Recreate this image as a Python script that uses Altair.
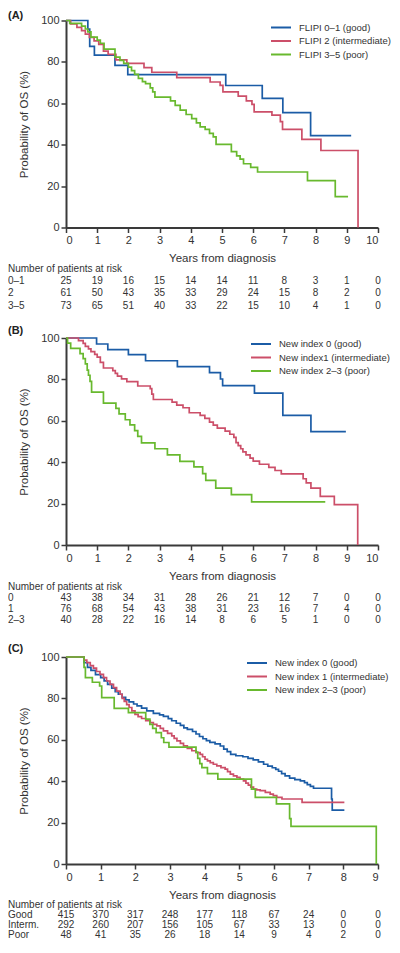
import altair as alt
import pandas as pd

FONT = "Liberation Sans"
TXT = "#333333"
COLORS = ["#1b5ca6", "#cc4f69", "#68b92e"]

# ---------------- Panel A ----------------
A_labels = ["FLIPI 0–1 (good)", "FLIPI 2 (intermediate)", "FLIPI 3–5 (poor)"]
A_good_t = [0, 0.70, 0.76, 0.91, 1.57, 1.98, 5.12, 6.29, 6.95, 7.84, 9.14]
A_good_s = [100, 95.8, 87.5, 83.3, 78.3, 73.9, 68.6, 62.4, 55.5, 44.4, 44.4]
A_int_t = [0, 0.15, 0.35, 0.50, 0.62, 0.75, 0.90, 1.05, 1.20, 1.35, 1.60, 1.95, 2.50, 2.75, 3.55,
           4.62, 4.94, 5.03, 5.52, 5.78, 5.96, 6.03, 6.60, 6.87, 6.94, 7.56, 8.17, 9.36]
A_int_s = [100, 98.4, 96.7, 95.1, 93.4, 91.8, 90.2, 88.5, 85.2, 83.6, 81.0, 79.3, 77.2, 75.0, 72.4,
           70.3, 68.7, 65.5, 63.5, 61.2, 59.5, 55.9, 54.3, 51.1, 47.4, 42.6, 37.2, 0]
A_poor_t = [0, 0.12, 0.50, 0.62, 0.70, 0.80, 1.00, 1.10, 1.22, 1.57, 1.73, 1.85, 2.00, 2.10, 2.20,
            2.32, 2.45, 2.55, 2.70, 2.78, 2.85, 3.35, 3.50, 3.66, 3.85, 4.03, 4.18, 4.30, 4.46, 4.60,
            4.72, 4.81, 5.30, 5.47, 5.58, 5.69, 5.92, 6.14, 7.74, 8.63, 9.04]
A_poor_s = [100, 98.6, 97.3, 95.9, 94.5, 92.0, 90.5, 89.0, 86.2, 82.3, 80.7, 79.3, 77.5, 75.8, 74.0,
            72.0, 70.5, 69.5, 67.5, 65.5, 63.0, 61.2, 59.0, 56.7, 54.6, 52.6, 50.5, 48.6, 47.4, 45.5,
            43.8, 40.2, 36.7, 34.6, 33.0, 30.8, 29.0, 26.8, 22.6, 14.9, 14.9]
A_risk_rows = ["0–1", "2", "3–5"]
A_risk_0_1 = [25, 19, 16, 15, 14, 14, 11, 8, 3, 1, 0]
A_risk_2 = [61, 50, 43, 35, 33, 29, 24, 15, 8, 2, 0]
A_risk_3_5 = [73, 65, 51, 40, 33, 22, 15, 10, 4, 1, 0]

# ---------------- Panel B ----------------
B_labels = ["New index 0 (good)", "New index1 (intermediate)", "New index 2–3 (poor)"]
B_good_t = [0, 0.98, 1.34, 2.00, 2.55, 3.57, 4.60, 4.95, 5.02, 6.04, 6.95, 7.85, 8.97]
B_good_s = [100, 97.1, 94.4, 92.0, 89.0, 86.2, 83.3, 80.2, 77.0, 73.4, 62.6, 54.8, 54.8]
B_int_t = [0, 0.40, 0.55, 0.62, 0.72, 0.80, 0.92, 1.00, 1.10, 1.20, 1.50, 1.58, 1.65, 1.78, 1.95,
           2.30, 2.70, 2.75, 2.80, 3.40, 3.55, 3.75, 3.95, 4.30, 4.45, 4.60, 4.72, 4.85, 5.10, 5.25,
           5.38, 5.45, 5.52, 5.60, 5.67, 5.77, 5.90, 6.00, 6.20, 6.50, 6.70, 6.90, 7.60, 7.70, 7.85,
           8.15, 8.60, 9.35]
B_int_s = [100, 98.7, 97.4, 96.0, 94.7, 93.4, 92.1, 90.8, 88.2, 85.5, 84.2, 82.9, 81.6, 80.3, 78.9,
           76.8, 75.5, 72.9, 70.3, 69.0, 67.6, 66.3, 63.9, 62.6, 61.2, 59.4, 57.9, 56.5, 55.0, 53.5,
           52.0, 49.5, 48.0, 46.5, 45.0, 43.5, 42.0, 40.5, 39.0, 37.5, 36.0, 34.4, 32.0, 30.0, 27.5,
           23.5, 19.5, 0]
B_poor_t = [0, 0.05, 0.15, 0.45, 0.55, 0.62, 0.68, 0.72, 0.77, 0.82, 1.20, 1.60, 1.70, 1.90, 2.05,
            2.20, 2.30, 2.42, 2.85, 3.25, 3.65, 4.10, 4.38, 4.48, 4.80, 5.30, 5.95, 8.31]
B_poor_s = [100, 97.5, 95.0, 92.5, 90.0, 87.5, 84.5, 82.0, 79.0, 73.9, 68.5, 66.0, 63.3, 60.5, 58.0,
            55.3, 52.5, 49.3, 46.5, 43.5, 40.4, 37.7, 34.5, 31.2, 27.5, 24.3, 20.8, 20.8]
B_risk_rows = ["0", "1", "2–3"]
B_risk_0 = [43, 38, 34, 31, 28, 26, 21, 12, 7, 0, 0]
B_risk_1 = [76, 68, 54, 43, 38, 31, 23, 16, 7, 4, 0]
B_risk_2_3 = [40, 28, 22, 16, 14, 8, 6, 5, 1, 0, 0]

# ---------------- Panel C ----------------
C_labels = ["New index 0 (good)", "New index 1 (intermediate)", "New index 2–3 (poor)"]
C_good_t = [0, 0.52, 0.62, 0.72, 0.85, 1.00, 1.10, 1.20, 1.32, 1.42, 1.51, 1.62, 1.72, 1.82, 1.95,
            2.05, 2.18, 2.33, 2.52, 2.70, 2.81, 2.95, 3.05, 3.18, 3.30, 3.40, 3.50, 3.65, 3.75, 3.85,
            3.95, 4.05, 4.15, 4.30, 4.45, 4.55, 4.65, 4.75, 4.90, 5.10, 5.25, 5.40, 5.55, 5.70, 5.82,
            5.95, 6.05, 6.13, 6.22, 6.32, 6.45, 6.60, 6.76, 6.88, 6.96, 7.05, 7.14, 7.66, 7.68, 8.03]
C_good_s = [100, 97.3, 95.0, 93.5, 91.5, 90.0, 88.5, 86.8, 85.0, 83.3, 82.0, 80.5, 79.3, 78.3, 77.3,
            76.4, 75.3, 74.0, 72.8, 72.0, 71.3, 70.2, 69.2, 68.0, 67.0, 65.8, 65.0, 64.0, 62.8, 61.6,
            60.5, 59.6, 58.8, 58.0, 57.0, 55.5, 54.3, 53.0, 52.3, 51.8, 51.0, 50.3, 49.3, 48.2, 47.3,
            46.5, 45.7, 44.8, 43.7, 42.6, 41.5, 40.8, 40.2, 39.3, 38.3, 37.5, 36.6, 31.4, 26.0, 26.0]
C_int_t = [0, 0.52, 0.60, 0.70, 0.79, 0.88, 0.98, 1.08, 1.17, 1.27, 1.37, 1.46, 1.56, 1.62, 1.68,
           1.75, 1.82, 1.90, 1.99, 2.08, 2.18, 2.30, 2.43, 2.52, 2.62, 2.72, 2.81, 2.93, 3.05, 3.12,
           3.20, 3.30, 3.39, 3.50, 3.63, 3.75, 3.87, 3.94, 4.01, 4.08, 4.16, 4.25, 4.35, 4.47, 4.59,
           4.66, 4.74, 4.83, 4.93, 5.02, 5.12, 5.19, 5.26, 5.33, 5.41, 5.50, 5.60, 5.75, 5.89, 5.98,
           6.08, 6.23, 6.81, 8.03]
C_int_s = [100, 98.5, 97.3, 95.8, 94.6, 93.0, 91.6, 90.0, 88.4, 86.8, 85.2, 83.5, 82.0, 80.0, 78.6,
           77.0, 75.6, 74.0, 72.3, 71.2, 70.3, 69.3, 68.3, 67.5, 66.7, 65.5, 64.3, 63.1, 61.9, 60.7,
           59.5, 58.3, 57.1, 55.9, 54.7, 53.8, 53.0, 51.8, 50.6, 49.8, 49.0, 48.2, 47.4, 46.6, 45.8,
           44.6, 43.4, 42.6, 41.8, 41.0, 40.2, 39.1, 38.1, 37.1, 36.2, 35.8, 35.4, 34.6, 33.8, 33.0,
           32.2, 31.4, 29.8, 29.8]
C_poor_t = [0, 0.52, 0.56, 0.76, 0.97, 1.03, 1.39, 1.80, 2.30, 2.42, 2.50, 2.60, 2.75, 2.82, 2.97,
            3.75, 3.80, 3.86, 3.92, 4.08, 4.38, 5.35, 5.46, 6.07, 6.45, 6.49, 8.95]
C_poor_s = [100, 95.0, 90.0, 87.8, 86.0, 80.4, 75.2, 73.1, 70.0, 67.5, 65.5, 63.5, 61.0, 58.7, 56.5,
            54.0, 51.0, 48.5, 46.6, 43.7, 41.0, 36.2, 32.2, 29.0, 21.9, 18.2, 0]
C_risk_rows = ["Good", "Interm.", "Poor"]
C_risk_good = [415, 370, 317, 248, 177, 118, 67, 24, 0, 0]
C_risk_interm = [292, 260, 207, 156, 105, 67, 33, 13, 0, 0]
C_risk_poor = [48, 41, 35, 26, 18, 14, 9, 4, 2, 0]

HEADER = "Number of patients at risk"
PLOT_W, PLOT_H = 312, 207


def curves_df(labels, series):
    rows = []
    for lab, (ts, ss) in zip(labels, series):
        for i, (t, s) in enumerate(zip(ts, ss)):
            rows.append({"series": lab, "t": t, "s": s, "i": i})
    return pd.DataFrame(rows)


def risk_df(row_labels, counts):
    rows = []
    for lab, vals in zip(row_labels, counts):
        for yr, n in enumerate(vals):
            rows.append({"row": lab, "t": yr, "n": n})
    return pd.DataFrame(rows)


def panel(letter, labels, series, xmax, risk_rows, risk_counts, legend_x, legend_y,
          tag_y, table_top, table_bottom):
    df = curves_df(labels, series)
    xscale = alt.Scale(domain=[0, xmax], nice=False, zero=True)
    xaxis = alt.Axis(title="Years from diagnosis", values=list(range(0, xmax + 1)),
                     format="d", titlePadding=7, labelOverlap=False)
    lines = alt.Chart(df).mark_line(interpolate="step-after", strokeWidth=1.7).encode(
        x=alt.X("t:Q", scale=xscale, axis=xaxis),
        y=alt.Y("s:Q", scale=alt.Scale(domain=[0, 100], nice=False),
                axis=alt.Axis(title="Probability of OS (%)", values=[0, 20, 40, 60, 80, 100],
                              titlePadding=11)),
        color=alt.Color("series:N", scale=alt.Scale(domain=labels, range=COLORS),
                        sort=labels,
                        legend=alt.Legend(title=None, orient="none", legendX=legend_x,
                                          legendY=legend_y, symbolType="M-2,0H2",
                                          symbolSize=100, symbolStrokeWidth=2,
                                          labelFontSize=9.5, labelFont=FONT, labelColor=TXT,
                                          rowPadding=2.5, labelOffset=12, padding=0)),
        detail="series:N",
        order=alt.Order("i:Q"),
    )
    tag = alt.Chart(pd.DataFrame({"p": [f"({letter})"]})).mark_text(
        align="left", baseline="middle", fontWeight="bold", fontSize=11, font=FONT, color="#222"
    ).encode(text="p:N", x=alt.value(-58), y=alt.value(tag_y))

    # risk table: rows placed on their own point scale below the x axis
    tscale = alt.Scale(type="point", domain=[HEADER] + risk_rows,
                       range=[table_top, table_bottom], padding=0)
    rdf = risk_df(risk_rows, risk_counts)
    numbers = alt.Chart(rdf).mark_text(fontSize=10, font=FONT, color=TXT, baseline="middle").encode(
        x=alt.X("t:Q", scale=xscale, axis=xaxis),
        y=alt.Y("row:N", scale=tscale, axis=None),
        text="n:Q",
    )
    row_labels = alt.Chart(pd.DataFrame({"row": [HEADER] + risk_rows})).mark_text(
        fontSize=10, font=FONT, color=TXT, align="left", baseline="middle"
    ).encode(
        x=alt.value(-58),
        y=alt.Y("row:N", scale=tscale, axis=None),
        text="row:N",
    )
    return alt.layer(lines, tag, numbers, row_labels).resolve_scale(y="independent").properties(
        width=PLOT_W, height=PLOT_H)


pA = panel("A", A_labels, [(A_good_t, A_good_s), (A_int_t, A_int_s), (A_poor_t, A_poor_s)], 10,
           A_risk_rows, [A_risk_0_1, A_risk_2, A_risk_3_5], 209, 1, -5, 248.5, 285)
pB = panel("B", B_labels, [(B_good_t, B_good_s), (B_int_t, B_int_s), (B_poor_t, B_poor_s)], 10,
           B_risk_rows, [B_risk_0, B_risk_1, B_risk_2_3], 189, 0, -7, 249, 282)
pC = panel("C", C_labels, [(C_good_t, C_good_s), (C_int_t, C_int_s), (C_poor_t, C_poor_s)], 9,
           C_risk_rows, [C_risk_good, C_risk_interm, C_risk_poor], 185, 0, -8, 247.5, 278)

top_two = alt.vconcat(pA, pB, spacing=14.5).resolve_scale(
    x="independent", y="independent", color="independent")

chart = alt.vconcat(top_two, pC, spacing=17.5).resolve_scale(
    x="independent", y="independent", color="independent"
).properties(padding={"left": 0, "top": 1.5, "right": 0, "bottom": 0}).configure_view(
    stroke=None
).configure_axis(
    grid=False, domainColor="#3a3a3a", domainWidth=2, tickColor="#3a3a3a", tickWidth=1.5,
    tickSize=5, labelPadding=2, labelFont=FONT, labelFontSize=11, labelColor=TXT,
    titleFont=FONT, titleFontSize=11.5, titleFontWeight="normal", titleColor=TXT,
).configure_legend(labelFont=FONT)

chart.save("out.html", embed_options={"renderer": "svg", "actions": False})
